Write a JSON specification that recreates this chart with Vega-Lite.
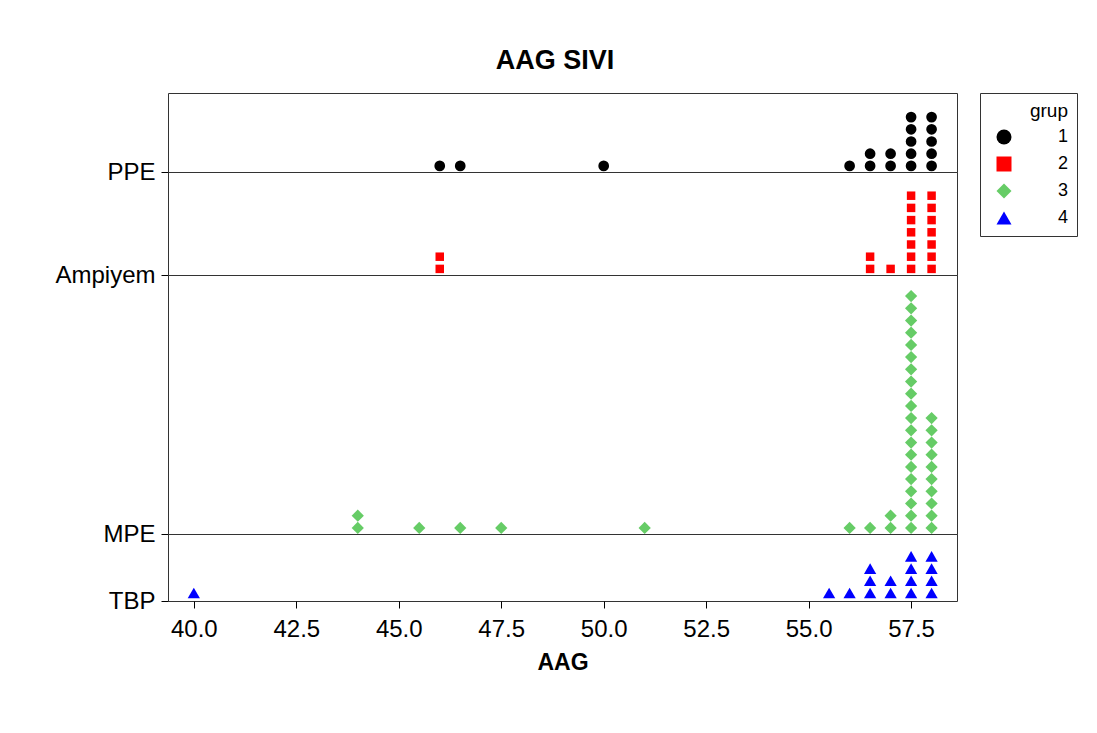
{
  "$schema": "https://vega.github.io/schema/vega-lite/v6.json",
  "background": "white",
  "padding": {"left": 54, "top": 46, "right": 20, "bottom": 20},
  "title": {"text": "AAG SIVI", "fontSize": 27, "font": "Liberation Sans", "fontWeight": "bold", "anchor": "middle", "offset": 18, "dx": -11, "color": "black"},
  "data": {"values": [
    {"AAG": 46.0, "grup": 1}, {"AAG": 46.5, "grup": 1}, {"AAG": 50.0, "grup": 1}, {"AAG": 56.0, "grup": 1},
    {"AAG": 56.5, "grup": 1}, {"AAG": 56.5, "grup": 1}, {"AAG": 57.0, "grup": 1}, {"AAG": 57.0, "grup": 1},
    {"AAG": 57.5, "grup": 1}, {"AAG": 57.5, "grup": 1}, {"AAG": 57.5, "grup": 1}, {"AAG": 57.5, "grup": 1}, {"AAG": 57.5, "grup": 1},
    {"AAG": 58.0, "grup": 1}, {"AAG": 58.0, "grup": 1}, {"AAG": 58.0, "grup": 1}, {"AAG": 58.0, "grup": 1}, {"AAG": 58.0, "grup": 1},
    {"AAG": 46.0, "grup": 2}, {"AAG": 46.0, "grup": 2}, {"AAG": 56.5, "grup": 2}, {"AAG": 56.5, "grup": 2}, {"AAG": 57.0, "grup": 2},
    {"AAG": 57.5, "grup": 2}, {"AAG": 57.5, "grup": 2}, {"AAG": 57.5, "grup": 2}, {"AAG": 57.5, "grup": 2}, {"AAG": 57.5, "grup": 2}, {"AAG": 57.5, "grup": 2}, {"AAG": 57.5, "grup": 2},
    {"AAG": 58.0, "grup": 2}, {"AAG": 58.0, "grup": 2}, {"AAG": 58.0, "grup": 2}, {"AAG": 58.0, "grup": 2}, {"AAG": 58.0, "grup": 2}, {"AAG": 58.0, "grup": 2}, {"AAG": 58.0, "grup": 2},
    {"AAG": 44.0, "grup": 3}, {"AAG": 44.0, "grup": 3}, {"AAG": 45.5, "grup": 3}, {"AAG": 46.5, "grup": 3}, {"AAG": 47.5, "grup": 3}, {"AAG": 51.0, "grup": 3},
    {"AAG": 56.0, "grup": 3}, {"AAG": 56.5, "grup": 3}, {"AAG": 57.0, "grup": 3}, {"AAG": 57.0, "grup": 3},
    {"AAG": 57.5, "grup": 3}, {"AAG": 57.5, "grup": 3}, {"AAG": 57.5, "grup": 3}, {"AAG": 57.5, "grup": 3}, {"AAG": 57.5, "grup": 3},
    {"AAG": 57.5, "grup": 3}, {"AAG": 57.5, "grup": 3}, {"AAG": 57.5, "grup": 3}, {"AAG": 57.5, "grup": 3}, {"AAG": 57.5, "grup": 3},
    {"AAG": 57.5, "grup": 3}, {"AAG": 57.5, "grup": 3}, {"AAG": 57.5, "grup": 3}, {"AAG": 57.5, "grup": 3}, {"AAG": 57.5, "grup": 3},
    {"AAG": 57.5, "grup": 3}, {"AAG": 57.5, "grup": 3}, {"AAG": 57.5, "grup": 3}, {"AAG": 57.5, "grup": 3}, {"AAG": 57.5, "grup": 3},
    {"AAG": 58.0, "grup": 3}, {"AAG": 58.0, "grup": 3}, {"AAG": 58.0, "grup": 3}, {"AAG": 58.0, "grup": 3}, {"AAG": 58.0, "grup": 3},
    {"AAG": 58.0, "grup": 3}, {"AAG": 58.0, "grup": 3}, {"AAG": 58.0, "grup": 3}, {"AAG": 58.0, "grup": 3}, {"AAG": 58.0, "grup": 3},
    {"AAG": 40.0, "grup": 4}, {"AAG": 55.5, "grup": 4}, {"AAG": 56.0, "grup": 4},
    {"AAG": 56.5, "grup": 4}, {"AAG": 56.5, "grup": 4}, {"AAG": 56.5, "grup": 4}, {"AAG": 57.0, "grup": 4}, {"AAG": 57.0, "grup": 4},
    {"AAG": 57.5, "grup": 4}, {"AAG": 57.5, "grup": 4}, {"AAG": 57.5, "grup": 4}, {"AAG": 57.5, "grup": 4},
    {"AAG": 58.0, "grup": 4}, {"AAG": 58.0, "grup": 4}, {"AAG": 58.0, "grup": 4}, {"AAG": 58.0, "grup": 4}
  ]},
  "transform": [{"window": [{"op": "row_number", "as": "sira"}], "groupby": ["grup", "AAG"]}],
  "spacing": 0,
  "bounds": "flush",
  "vconcat": [
    {
      "width": 789, "height": 79,
      "transform": [{"filter": "datum.grup == 1"}],
      "mark": {"type": "point", "filled": true, "opacity": 1, "size": 115},
      "encoding": {
        "x": {"field": "AAG", "type": "quantitative", "scale": {"domain": [39.37, 58.62], "nice": false, "zero": false}, "axis": null},
        "y": {"field": "sira", "type": "quantitative", "scale": {"domain": [0.5, 6.975], "nice": false, "zero": false}, "axis": {"values": [0.5], "labelExpr": "'PPE'", "title": null}},
        "color": {"field": "grup", "type": "nominal", "scale": {"domain": [1, 2, 3, 4], "range": ["#000000", "#FF0000", "#66CC66", "#0000FF"]}, "title": "grup"},
        "shape": {"field": "grup", "type": "nominal", "scale": {"domain": [1, 2, 3, 4], "range": ["circle", "square", "diamond", "triangle-up"]}, "title": "grup"}
      }
    },
    {
      "width": 789, "height": 103,
      "transform": [{"filter": "datum.grup == 2"}],
      "mark": {"type": "point", "filled": true, "opacity": 1, "size": 72},
      "encoding": {
        "x": {"field": "AAG", "type": "quantitative", "scale": {"domain": [39.37, 58.62], "nice": false, "zero": false}, "axis": null},
        "y": {"field": "sira", "type": "quantitative", "scale": {"domain": [0.5, 8.943], "nice": false, "zero": false}, "axis": {"values": [0.5], "labelExpr": "'Ampiyem'", "title": null}},
        "color": {"field": "grup", "type": "nominal", "scale": {"domain": [1, 2, 3, 4], "range": ["#000000", "#FF0000", "#66CC66", "#0000FF"]}, "title": "grup"},
        "shape": {"field": "grup", "type": "nominal", "scale": {"domain": [1, 2, 3, 4], "range": ["circle", "square", "diamond", "triangle-up"]}, "title": "grup"}
      }
    },
    {
      "width": 789, "height": 259,
      "transform": [{"filter": "datum.grup == 3"}],
      "mark": {"type": "point", "filled": true, "opacity": 1, "size": 150},
      "encoding": {
        "x": {"field": "AAG", "type": "quantitative", "scale": {"domain": [39.37, 58.62], "nice": false, "zero": false}, "axis": null},
        "y": {"field": "sira", "type": "quantitative", "scale": {"domain": [0.5, 21.73], "nice": false, "zero": false}, "axis": {"values": [0.5], "labelExpr": "'MPE'", "title": null}},
        "color": {"field": "grup", "type": "nominal", "scale": {"domain": [1, 2, 3, 4], "range": ["#000000", "#FF0000", "#66CC66", "#0000FF"]}, "title": "grup"},
        "shape": {"field": "grup", "type": "nominal", "scale": {"domain": [1, 2, 3, 4], "range": ["circle", "square", "diamond", "triangle-up"]}, "title": "grup"}
      }
    },
    {
      "width": 789, "height": 67,
      "transform": [{"filter": "datum.grup == 4"}],
      "mark": {"type": "point", "filled": true, "opacity": 1, "size": 150},
      "encoding": {
        "x": {"field": "AAG", "type": "quantitative", "scale": {"domain": [39.37, 58.62], "nice": false, "zero": false}, "axis": {"values": [40, 42.5, 45, 47.5, 50, 52.5, 55, 57.5], "format": ".1f", "title": "AAG", "titlePadding": 10, "labelPadding": 9, "labelFlush": false}},
        "y": {"field": "sira", "type": "quantitative", "scale": {"domain": [0.344, 5.835], "nice": false, "zero": false}, "axis": {"values": [0.344], "labelExpr": "'TBP'", "title": null}},
        "color": {"field": "grup", "type": "nominal", "scale": {"domain": [1, 2, 3, 4], "range": ["#000000", "#FF0000", "#66CC66", "#0000FF"]}, "title": "grup"},
        "shape": {"field": "grup", "type": "nominal", "scale": {"domain": [1, 2, 3, 4], "range": ["circle", "square", "diamond", "triangle-up"]}, "title": "grup"}
      }
    }
  ],
  "resolve": {"scale": {"color": "shared", "shape": "shared"}, "legend": {"color": "shared", "shape": "shared"}},
  "config": {
    "font": "Liberation Sans",
    "view": {"stroke": "#333333", "strokeWidth": 1},
    "axis": {"labelFontSize": 24, "labelColor": "black", "labelFont": "Liberation Sans", "tickColor": "black", "tickSize": 7, "labelPadding": 6, "titleFontSize": 23, "titleFontWeight": "bold", "titleColor": "black", "titleFont": "Liberation Sans", "domain": false, "grid": false},
    "legend": {"orient": "right", "offset": 22, "strokeColor": "#333333", "padding": 9, "titleFontSize": 19, "titleFontWeight": "normal", "titleColor": "black", "titleAnchor": "end", "labelFontSize": 18, "labelColor": "black", "symbolSize": 225, "labelAlign": "right", "labelOffset": 55, "rowPadding": 9, "titlePadding": 7, "symbolOffset": 6, "symbolStrokeWidth": 0}
  }
}
